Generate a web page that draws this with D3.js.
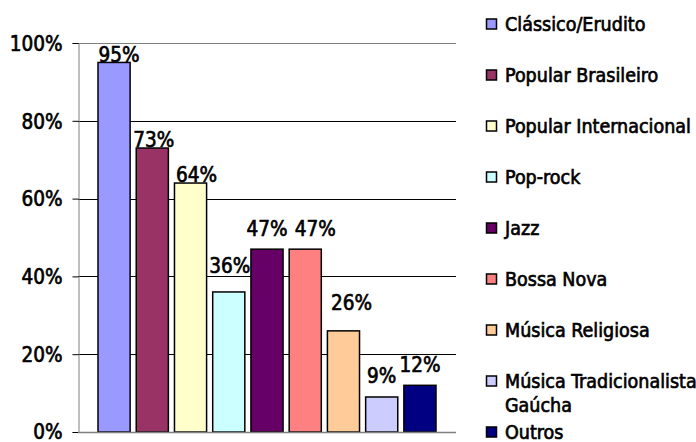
<!DOCTYPE html>
<html>
<head>
<script src="https://d3js.org/d3.v7.min.js"></script>
<style>
body { margin: 0; background: #fff; }
text { font-family: "DejaVu Sans Condensed", "DejaVu Sans", sans-serif; font-size: 19.5px; fill: #000;
       stroke: #000; stroke-width: 0.65px; }
text.num { font-size: 20.5px; }
</style>
</head>
<body>
<div id="canvas"></div>
<script>
var categories = ["Clássico/Erudito", "Popular Brasileiro", "Popular Internacional", "Pop-rock",
                  "Jazz", "Bossa Nova", "Música Religiosa", "Música Tradicionalista Gaúcha", "Outros"];
var values = [95, 73, 64, 36, 47, 47, 26, 9, 12];
var colors = ["#9999FF", "#993366", "#FFFFCC", "#CCFFFF", "#660066", "#FF8080", "#FFCC99", "#CCCCFF", "#000080"];
var yTicks = [0, 20, 40, 60, 80, 100];

var width = 696, height = 442,
    plotLeft = 78, plotRight = 456, plotTop = 43, plotBottom = 432;

var svg = d3.select("#canvas").append("svg")
    .attr("width", width).attr("height", height);

var x = d3.scaleBand().domain(categories).range([plotLeft + 20, plotRight - 20]).paddingInner(0.16);
var y = d3.scaleLinear().domain([0, 100]).range([plotBottom, plotTop]);

// gridlines
svg.append("g").selectAll("line").data(yTicks.filter(function(d) { return d > 0; }))
  .enter().append("line")
    .attr("x1", plotLeft).attr("x2", plotRight)
    .attr("y1", function(d) { return Math.round(y(d)) + 0.5; })
    .attr("y2", function(d) { return Math.round(y(d)) + 0.5; })
    .attr("stroke", function(d) { return d == 100 ? "#808080" : "#000"; })
    .attr("stroke-width", 1);

// y axis
var yAxis = d3.axisLeft(y).tickValues(yTicks).tickSize(6).tickPadding(10)
    .tickFormat(function(d) { return d + "%"; });
var ga = svg.append("g").attr("transform", "translate(" + (plotLeft + 0.5) + ",0)").call(yAxis);
ga.select(".domain").attr("stroke", "#808080");
ga.selectAll(".tick line").attr("stroke", "#000");
ga.selectAll(".tick text").attr("class", "num").attr("font-size", null).attr("font-family", null)
    .attr("dy", function(d) { return d == 0 ? "0.3em" : "0.36em"; });

// bars
svg.append("g").selectAll("rect").data(values).enter().append("rect")
    .attr("x", function(d, i) { return x(categories[i]); })
    .attr("y", function(d) { return y(d); })
    .attr("width", x.bandwidth())
    .attr("height", function(d) { return y(0) - y(d); })
    .attr("fill", function(d, i) { return colors[i]; })
    .attr("stroke", "#000").attr("stroke-width", 1.5);

// x axis line
svg.append("line").attr("x1", plotLeft).attr("x2", plotRight)
    .attr("y1", plotBottom + 0.5).attr("y2", plotBottom + 0.5)
    .attr("stroke", "#808080").attr("stroke-width", 1.5);

// value labels, nudged the way they sit in the original
var lift = [0, 1, 1, 19, 13, 13, 21, 14, 13];
var shift = [5, 1.5, 6, 1, 0, 10, 8, 0, 0];
svg.append("g").selectAll("text").data(values).enter().append("text")
    .attr("class", "num")
    .attr("x", function(d, i) { return x(categories[i]) + x.bandwidth() / 2 + shift[i]; })
    .attr("y", function(d, i) { return y(d) - lift[i]; })
    .attr("text-anchor", "middle")
    .text(function(d) { return d + "%"; });

// legend
var legendTop = 24, legendStep = 51;
var lg = svg.append("g").selectAll("g").data(categories).enter().append("g")
    .attr("transform", function(d, i) { return "translate(486," + (legendTop + i * legendStep) + ")"; });
lg.append("rect").attr("x", 0.5).attr("y", -5).attr("width", 10).attr("height", 10)
    .attr("fill", function(d, i) { return colors[i]; })
    .attr("stroke", "#000").attr("stroke-width", 1.5);
lg.append("text").attr("x", 19).attr("dy", "0.34em")
    .each(function(d) {
        var t = d3.select(this);
        if (d == "Música Tradicionalista Gaúcha") {
            t.append("tspan").attr("x", 19).text("Música Tradicionalista");
            t.append("tspan").attr("x", 19).attr("dy", "1.25em").text("Gaúcha");
        } else {
            t.text(d);
        }
    });
</script>
</body>
</html>
